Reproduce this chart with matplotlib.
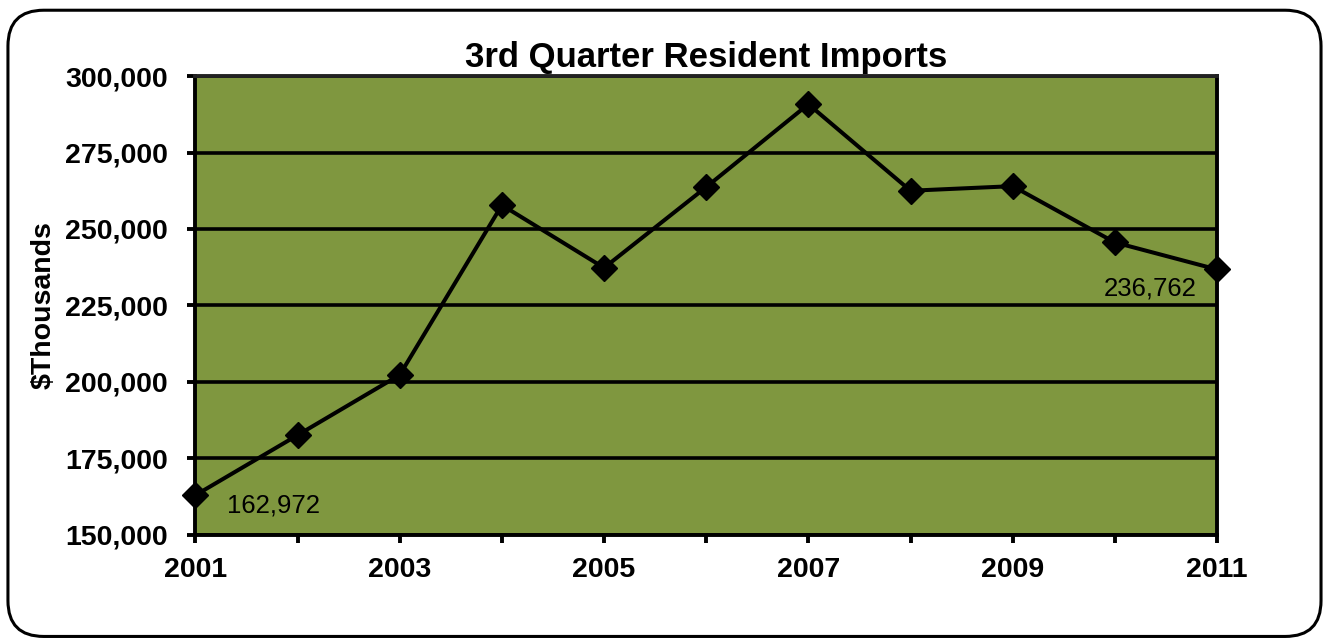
import matplotlib.pyplot as plt
from matplotlib.patches import FancyBboxPatch
from matplotlib.ticker import FuncFormatter

# 3rd quarter resident imports, $thousands
years = [2001, 2002, 2003, 2004, 2005, 2006, 2007, 2008, 2009, 2010, 2011]
imports = [162972, 182600, 202300, 257800, 237300, 263700, 290800, 262500, 264000, 245600, 236762]
year_labels = ['2001', '', '2003', '', '2005', '', '2007', '', '2009', '', '2011']

plt.rcParams['font.family'] = ['Liberation Sans', 'DejaVu Sans']

fig = plt.figure(figsize=(13.25, 6.39), dpi=100)

# rounded frame around the whole chart
frame = FancyBboxPatch((0.006, 0.004), 0.991, 0.98, boxstyle='round,pad=0,rounding_size=0.027',
                       transform=fig.transFigure, facecolor='none', edgecolor='black',
                       linewidth=2.2, mutation_aspect=13.25 / 6.39, zorder=5)
fig.patches.append(frame)

ax = fig.add_axes([0.1475, 0.163, 0.771, 0.718])
ax.set_facecolor('#7f973f')

ax.plot(years, imports, color='black', linewidth=2.9, marker='D', markersize=13,
        zorder=3, clip_on=False)

ax.set_xlim(2001, 2011)
ax.set_ylim(150000, 300000)
ax.set_yticks(range(150000, 300001, 25000))
ax.yaxis.set_major_formatter(FuncFormatter(lambda v, p: f'{int(v):,}'))
ax.set_xticks(years)
ax.set_xticklabels(year_labels)

ax.grid(axis='y', color='black', linewidth=2.6)
ax.set_axisbelow(True)
for s in ax.spines.values():
    s.set_linewidth(2.8)
    s.set_color('black')
ax.spines['top'].set_color('#222222')

ax.tick_params(direction='out', length=6, width=2.8, labelsize=20.5)
for lab in ax.get_xticklabels() + ax.get_yticklabels():
    lab.set_fontweight('bold')
ax.tick_params(axis='x', pad=10)
ax.tick_params(axis='y', pad=14)

ax.set_ylabel('$Thousands', fontsize=20.5, fontweight='bold', labelpad=6)
ax.set_title('3rd Quarter Resident Imports', fontsize=25, fontweight='bold', pad=6.5)

# first and last values labelled
ax.annotate(f'{imports[0]:,}', (years[0], imports[0]), xytext=(32, -10),
            textcoords='offset pixels', fontsize=18.5, va='center', ha='left')
ax.annotate(f'{imports[-1]:,}', (years[-1], imports[-1]), xytext=(-20, -19),
            textcoords='offset pixels', fontsize=18.5, va='center', ha='right')

fig.savefig('out.png', dpi=100)
